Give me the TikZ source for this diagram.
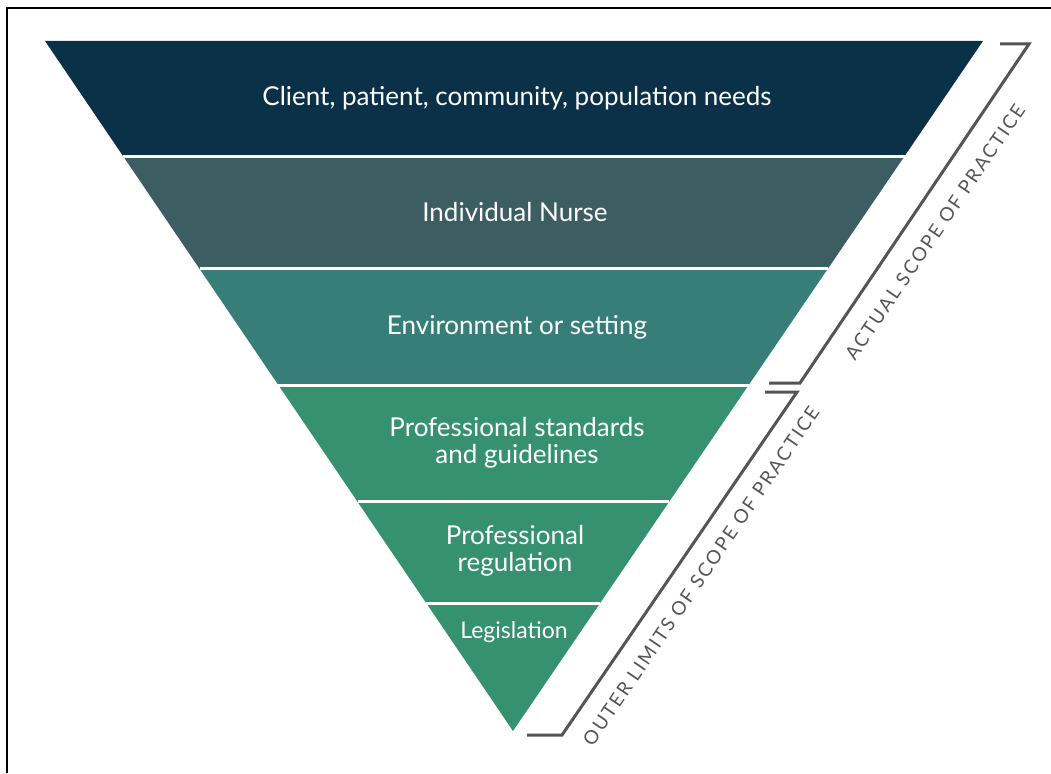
\documentclass[tikz,border=0pt]{standalone}
\usepackage{fontspec}
\setmainfont{Lato}
\newfontfamily\labfont[LetterSpace=11]{Lato}
\usetikzlibrary{calc}
\definecolor{bandA}{RGB}{11,49,73}
\definecolor{bandB}{RGB}{60,94,99}
\definecolor{bandC}{RGB}{56,126,120}
\definecolor{bandD}{RGB}{53,145,112}
\definecolor{brk}{RGB}{85,85,85}
\begin{document}
\begin{tikzpicture}[x=1pt,y=-1pt,
  bandtext/.style={text=white,align=center,font=\fontsize{26}{27}\selectfont},
  sep/.style={draw=white,line width=3pt},
  bracket/.style={draw=brk,line width=3pt},
  sidelabel/.style={text=brk,font=\labfont\fontsize{19}{20}\selectfont}]
\useasboundingbox (0,0) rectangle (1051,773);
\draw[line width=2pt] (7,773) -- (7,8) -- (1051,8);
\coordinate (TL) at (45,41);
\coordinate (TR) at (983,41);
\coordinate (Ap) at (513,731);
\foreach \i/\t in {1/0.1667,2/0.3304,3/0.4986,4/0.6681,5/0.8145}{
  \coordinate (L\i) at ($(TL)!\t!(Ap)$);
  \coordinate (R\i) at ($(TR)!\t!(Ap)$);
}
\fill[bandA] (TL) -- (TR) -- (R1) -- (L1) -- cycle;
\fill[bandB] (L1) -- (R1) -- (R2) -- (L2) -- cycle;
\fill[bandC] (L2) -- (R2) -- (R3) -- (L3) -- cycle;
\fill[bandD] (L3) -- (R3) -- (Ap) -- cycle;
\foreach \i in {1,...,5}{\draw[sep] (L\i) -- (R\i);}
\node[bandtext] (n1) at (517,98) {Client, patient, community, population needs};
\node[bandtext] (n2) at (515,212) {Individual Nurse};
\node[bandtext] (n3) at (517,327) {Environment or setting};
\node[bandtext] (n4) at (517,443) {Professional standards\\and guidelines};
\node[bandtext] (n5) at (515,551) {Professional\\regulation};
\node[bandtext,font=\fontsize{23}{24}\selectfont] (n6) at (514,632) {Legislation};
% brackets
\coordinate (a1) at (769,383);
\coordinate (a2) at (800,383);
\coordinate (a3) at (1029,44);
\coordinate (a4) at (1000,44);
\draw[bracket] (a1) -- (a2) -- (a3) -- (a4);
\coordinate (b1) at (765,392);
\coordinate (b2) at (797,392);
\coordinate (b3) at (562,735);
\coordinate (b4) at (527,735);
\draw[bracket] (b1) -- (b2) -- (b3) -- (b4);
\node[sidelabel,rotate=55.8] (actual) at (935,232) {ACTUAL SCOPE OF PRACTICE};
\node[sidelabel,rotate=55.8] (outer) at (701,576) {OUTER LIMITS OF SCOPE OF PRACTICE};
\end{tikzpicture}
\end{document}
